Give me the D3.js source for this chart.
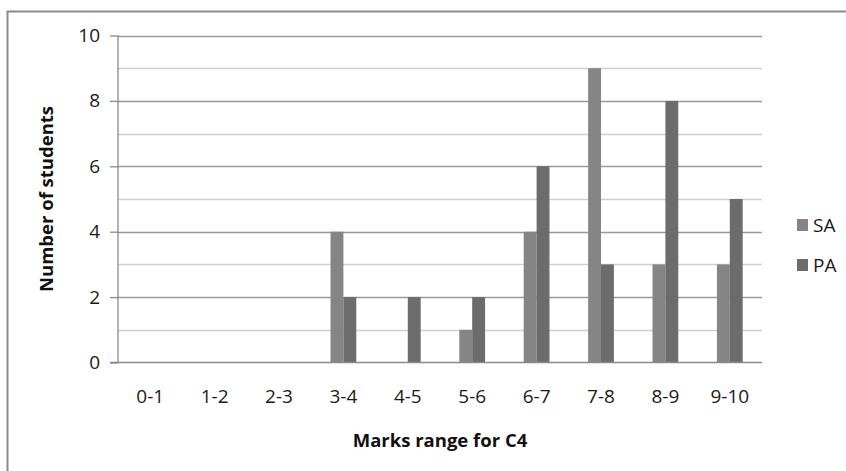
<!DOCTYPE html>
<html><head><meta charset="utf-8">
<script src="https://cdn.jsdelivr.net/npm/d3@7"></script>
<style>html,body{margin:0;padding:0;background:#fff;overflow:hidden}</style>
</head><body>
<svg id="c" width="846" height="471"></svg>
<script>
const categories = ["0-1","1-2","2-3","3-4","4-5","5-6","6-7","7-8","8-9","9-10"];
const seriesNames = ["SA","PA"];
const saValues = [0,0,0,4,0,1,4,9,3,3];
const paValues = [0,0,0,2,2,2,6,3,8,5];
const yTickLabels = [0,2,4,6,8,10];
const yGridValues = [0,1,2,3,4,5,6,7,8,9,10];
const colors = {SA:"#858585", PA:"#6c6c6c"};
const font = "'Open Sans', 'Liberation Sans', sans-serif";

const svg = d3.select("#c");
// outer border (top & left visible)
svg.append("rect").attr("x",7.5).attr("y",11.5).attr("width",900).attr("height",600)
  .attr("fill","none").attr("stroke","#8a8a8a").attr("stroke-width",2);

const L=118, R=762, T=35.5, B=362.5;
const x = d3.scaleBand().domain(categories).range([L,R]).paddingInner(0.6).paddingOuter(0.3);
const x1 = d3.scaleBand().domain(seriesNames).range([0,x.bandwidth()]);
const y = d3.scaleLinear().domain([0,10]).range([B,T]);

// gridlines
svg.append("g").selectAll("line").data(yGridValues.filter(v=>v>0)).join("line")
  .attr("x1",L).attr("x2",R).attr("y1",d=>Math.round(y(d))+0.5).attr("y2",d=>Math.round(y(d))+0.5)
  .attr("stroke",d=>d%2===0?"#9a9a9a":"#cfcfcf").attr("stroke-width",1.3);

// bars
const data = categories.map((c,i)=>({c, SA:saValues[i], PA:paValues[i]}));
svg.append("g").selectAll("g").data(data).join("g")
  .attr("transform",d=>`translate(${x(d.c)},0)`)
  .selectAll("rect").data(d=>seriesNames.map(s=>({s,v:d[s]}))).join("rect")
  .attr("x",d=>x1(d.s)).attr("width",x1.bandwidth())
  .attr("y",d=>y(d.v)).attr("height",d=>B-y(d.v))
  .attr("fill",d=>colors[d.s]);

// y axis
const yAxis = d3.axisLeft(y).tickValues(yTickLabels).tickSize(8).tickPadding(10).tickFormat(d3.format("d"));
const ga = svg.append("g").attr("transform",`translate(${L},0)`).call(yAxis);
ga.select(".domain").attr("stroke","#8a8a8a").attr("stroke-width",1.3).attr("d",`M0,${T}V${B}`);
ga.selectAll(".tick line").attr("stroke","#8a8a8a").attr("stroke-width",1.3);
ga.selectAll(".tick text").attr("font-family",font).attr("font-size","19px").attr("fill","#1a1a1a");

// x axis
const xAxis = d3.axisBottom(x).tickSize(0).tickPadding(27);
const gx = svg.append("g").attr("transform",`translate(0,${B})`).call(xAxis);
gx.select(".domain").attr("stroke","#8a8a8a").attr("stroke-width",1.3).attr("d",`M${L-8},0H${R}`);
gx.selectAll(".tick text").attr("font-family",font).attr("font-size","19px").attr("fill","#1a1a1a");

// axis titles
svg.append("text").attr("x",(L+R)/2).attr("y",447).attr("text-anchor","middle")
  .attr("font-family",font).attr("font-weight","bold").attr("font-size","18.5px").attr("fill","#111")
  .text("Marks range for C4");
svg.append("text").attr("transform",`translate(53,${(T+B)/2}) rotate(-90)`).attr("text-anchor","middle")
  .attr("font-family",font).attr("font-weight","bold").attr("font-size","18.5px").attr("fill","#111")
  .text("Number of students");

// legend
const lg = svg.append("g").selectAll("g").data(seriesNames).join("g")
  .attr("transform",(d,i)=>`translate(797,${225+i*40})`);
lg.append("rect").attr("x",0).attr("y",-6).attr("width",11).attr("height",12).attr("fill",d=>colors[d]);
lg.append("text").attr("x",16).attr("y",0).attr("dy","0.36em")
  .attr("font-family",font).attr("font-size","19px").attr("fill","#1a1a1a").text(d=>d);
</script>
</body></html>
